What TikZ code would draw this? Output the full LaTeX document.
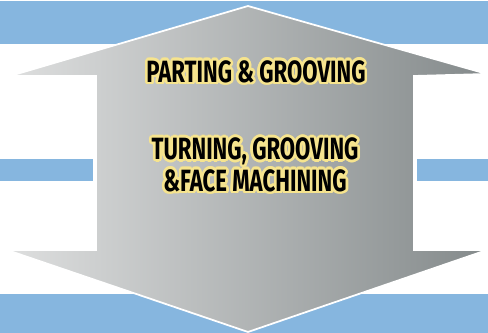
\documentclass[tikz,border=0pt]{standalone}
\usepackage{fontspec}
\usepackage{contour}
\usetikzlibrary{positioning}
\newfontfamily\lblfont[FakeStretch=0.72]{Fira Sans}
\contourlength{1.5pt}
\definecolor{bandc}{HTML}{86B6DF}
\definecolor{grayl}{HTML}{DEDFDF}
\definecolor{grayd}{HTML}{848A8B}
\definecolor{glowc}{HTML}{F6E48E}
\tikzset{
  band/.style={fill=bandc,draw=none},
  lbl/.style={font=\lblfont\bfseries\fontsize{17.5}{15.5}\selectfont,text=black,align=center,inner sep=0pt}
}
\begin{document}
\begin{tikzpicture}[x=0.02cm,y=-0.02cm]
\useasboundingbox (0,0) rectangle (488,333);
% blue bands
\fill[band] (0,1) rectangle (488,44);
\fill[band] (0,159) rectangle (93,181);
\fill[band] (417,159) rectangle (488,181);
\fill[band] (0,294) rectangle (488,333);
% double arrow
\shade[left color=grayl,right color=grayd,draw=white,line width=1pt]
  (248,6) -- (487,74) -- (414,76) -- (414,250) -- (487,250) -- (248,332)
  -- (7,250) -- (96,250) -- (96,76) -- (10,76) -- cycle;
% labels
\node[lbl] (parting) at (256,73) {\contour{glowc}{PARTING \& GROOVING}};
\node[lbl] (turning) at (255,166) {\contour{glowc}{TURNING, GROOVING}\\\contour{glowc}{\&FACE MACHINING}};
\end{tikzpicture}
\end{document}
